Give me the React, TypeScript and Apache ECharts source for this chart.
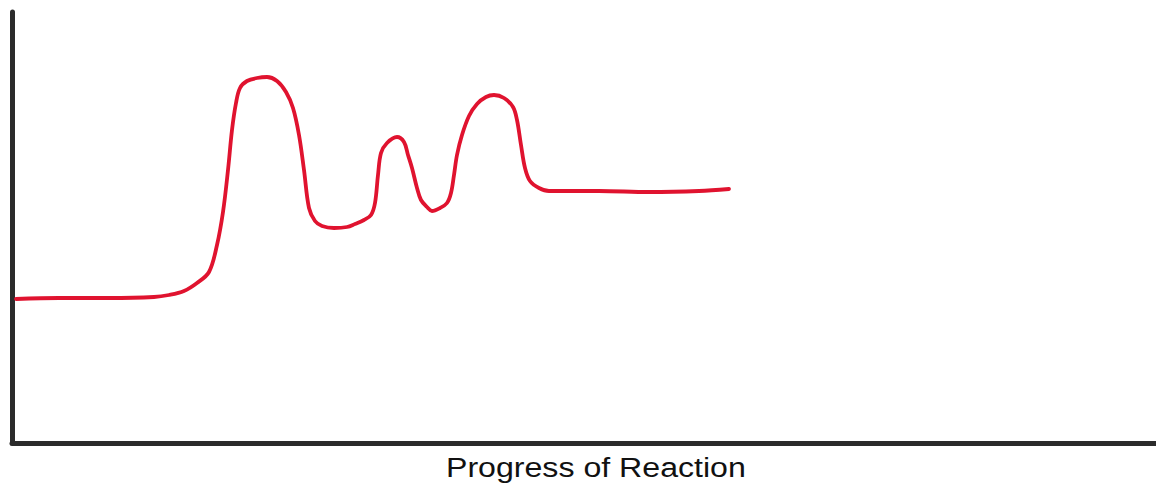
import React, { useEffect, useRef } from "react";
import * as echarts from "echarts";

// Reaction progress (arbitrary units) and potential energy (arbitrary units)
const progress = [4, 47, 97, 142, 157, 172, 185, 197, 205, 211, 216, 220, 224, 228, 235, 245, 255, 265, 274, 281, 287, 292, 297, 303, 310, 322, 335, 343, 352, 359, 363, 366, 369, 375, 385, 392, 396, 400, 405, 409, 415, 420, 428, 435, 439, 442, 445, 450, 457, 465, 474, 482, 492, 501, 505, 509, 513, 518, 527, 537, 587, 637, 687, 717];
const energy = [144, 145, 145, 146, 148, 152, 160, 171, 198, 231, 273, 313, 340, 355, 362, 365, 366, 362, 351, 335, 308, 273, 235, 222, 217, 215, 216, 219, 223, 228, 240, 268, 290, 300, 306, 301, 288, 275, 255, 243, 236, 232, 235, 240, 250, 268, 288, 308, 327, 339, 346, 348, 345, 336, 323, 298, 275, 262, 255, 252, 252, 251, 252, 254];
const xLabel = "Progress of Reaction";

export default function App() {
  const ref = useRef<HTMLDivElement>(null);
  useEffect(() => {
    document.body.style.margin = "0";
    const chart = echarts.init(ref.current!, null, { renderer: "svg" });
    chart.setOption({
      animation: false,
      backgroundColor: "#ffffff",
      grid: { left: 12, right: 0, top: 12, bottom: 44, containLabel: false },
      xAxis: {
        type: "value",
        min: 0,
        max: 1144,
        axisLine: { show: true, lineStyle: { color: "#2b2b2b", width: 5 } },
        axisTick: { show: false },
        axisLabel: { show: false },
        splitLine: { show: false },
      },
      yAxis: {
        type: "value",
        min: 0,
        max: 431,
        axisLine: { show: true, lineStyle: { color: "#2b2b2b", width: 5 } },
        axisTick: { show: false },
        axisLabel: { show: false },
        splitLine: { show: false },
      },
      series: [
        {
          type: "line",
          data: progress.map((p, i) => [p, energy[i]]),
          smooth: 0.35,
          showSymbol: false,
          lineStyle: { color: "#e0132f", width: 3.8, cap: "round", join: "round" },
        },
      ],
      graphic: [
        {
          type: "text",
          x: 446,
          y: 454,
          scaleX: 1.19,
          style: {
            text: xLabel,
            x: 0,
            y: 0,
            verticalAlign: "top",
            align: "left",
            font: '27px "Liberation Sans", Arial, sans-serif',
            fill: "#111111",
          },
        },
      ],
    });
    return () => chart.dispose();
  }, []);
  return <div ref={ref} style={{ width: 1156, height: 487 }} />;
}
